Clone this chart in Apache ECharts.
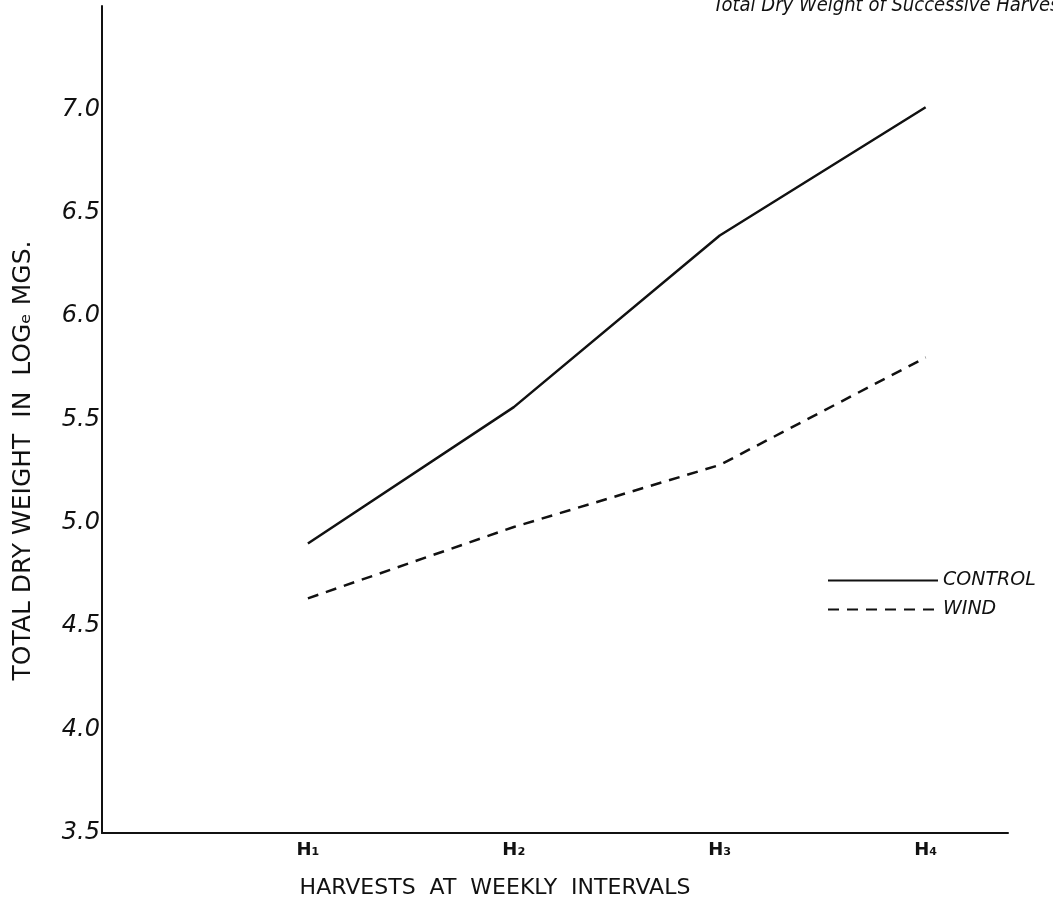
<!DOCTYPE html>
<html>
<head>
<meta charset="utf-8">
<style>
  html, body { margin: 0; padding: 0; background: #fff; }
  #chart { width: 1053px; height: 916px; }
</style>
<script src="https://cdn.jsdelivr.net/npm/echarts@6/dist/echarts.min.js"></script>
</head>
<body>
<div id="chart"></div>
<script>
// Harvest positions (weekly) and their labels
const harvests = [1, 2, 3, 4];
const harvestLabels = ['H₁', 'H₂', 'H₃', 'H₄'];

// Total dry weight, log_e mg
const controlValues = [4.90, 5.56, 6.39, 7.01];
const windValues = [4.635, 4.98, 5.28, 5.80];

const yTicks = ['3.5', '4.0', '4.5', '5.0', '5.5', '6.0', '6.5', '7.0'];

const ink = '#111';
const hand = '"DejaVu Sans", "Liberation Sans", sans-serif';
const handNarrow = '"DejaVu Sans Condensed", "DejaVu Sans", sans-serif';

const pair = (xs, ys) => xs.map((x, i) => [x, ys[i]]);

const chart = echarts.init(document.getElementById('chart'), null, { renderer: 'canvas' });

chart.setOption({
  backgroundColor: '#fff',
  animation: false,
  title: {
    text: 'Total Dry Weight of Successive Harvests',
    left: 708,
    top: -9,
    textStyle: { fontFamily: handNarrow, fontStyle: 'italic', fontWeight: 'normal', fontSize: 20, color: ink }
  },
  legend: {
    orient: 'vertical',
    left: 822,
    top: 566,
    itemWidth: 110,
    itemHeight: 12,
    itemGap: 10,
    itemStyle: { opacity: 0 },
    textStyle: { fontFamily: hand, fontStyle: 'italic', fontSize: 19, color: ink },
    data: ['CONTROL', 'WIND']
  },
  grid: { left: 102, right: 45, top: 6, bottom: 83, containLabel: false },
  xAxis: {
    type: 'value',
    min: 0,
    max: 4.4,
    interval: 1,
    name: 'HARVESTS  AT  WEEKLY  INTERVALS',
    nameLocation: 'middle',
    nameGap: 44,
    nameTextStyle: { fontFamily: hand, fontSize: 22, color: ink, padding: [0, 120, 0, 0] },
    axisLine: { show: true, lineStyle: { color: ink, width: 2 } },
    axisTick: { show: false },
    splitLine: { show: false },
    axisLabel: {
      showMinLabel: false,
      showMaxLabel: false,
      margin: 8,
      fontFamily: hand,
      fontSize: 18,
      fontWeight: 'bold',
      color: ink,
      formatter: v => {
        const i = harvests.indexOf(Math.round(v));
        return i >= 0 && Math.abs(v - harvests[i]) < 1e-6 ? harvestLabels[i] : '';
      }
    }
  },
  yAxis: {
    type: 'value',
    min: 3.5,
    max: 7.5,
    interval: 0.5,
    name: 'TOTAL DRY WEIGHT  IN  LOGₑ MGS.',
    nameLocation: 'middle',
    nameRotate: 90,
    nameGap: 66,
    nameTextStyle: { fontFamily: hand, fontSize: 25, color: ink, padding: [0, 82, 0, 0] },
    axisLine: { show: true, lineStyle: { color: ink, width: 2 } },
    axisTick: { show: false },
    splitLine: { show: false },
    axisLabel: {
      showMaxLabel: false,
      margin: 2,
      padding: [0, 0, 10, 0],
      fontFamily: hand,
      fontStyle: 'italic',
      fontSize: 24,
      color: ink,
      formatter: v => {
        const s = v.toFixed(1);
        return yTicks.includes(s) ? s : '';
      }
    }
  },
  series: [
    {
      name: 'CONTROL',
      type: 'line',
      data: pair(harvests, controlValues),
      symbol: 'none',
      lineStyle: { color: ink, width: 2.5, type: 'solid' },
      itemStyle: { color: ink }
    },
    {
      name: 'WIND',
      type: 'line',
      data: pair(harvests, windValues),
      symbol: 'none',
      lineStyle: { color: ink, width: 2.5, type: [11, 8] },
      itemStyle: { color: ink }
    }
  ]
});
</script>
</body>
</html>
